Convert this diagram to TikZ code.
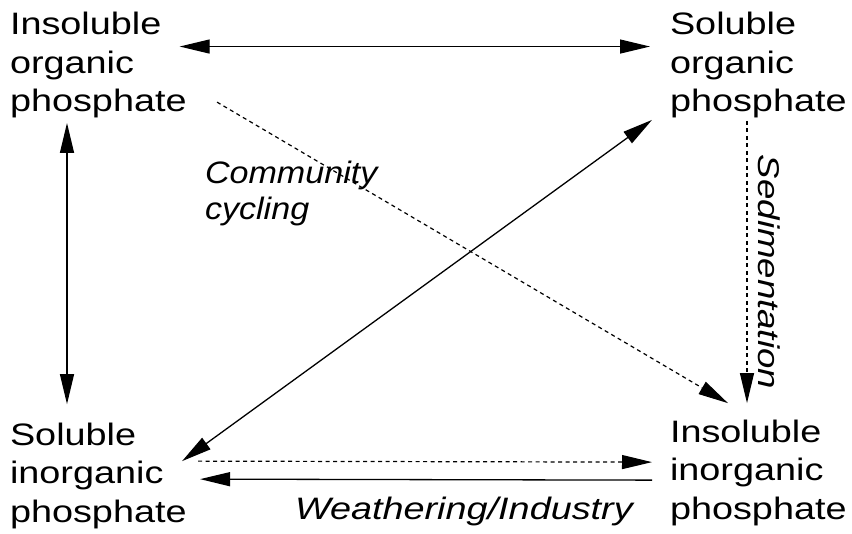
\documentclass[tikz,border=0pt]{standalone}
\usepackage{fontspec}
\setmainfont{Liberation Sans}[FakeStretch=1.22]
\newfontfamily\ccfont{Liberation Sans}[FakeStretch=1.1]
\usetikzlibrary{arrows.meta}
\begin{document}
\begin{tikzpicture}[x=1pt,y=-1pt,
  label/.style={inner sep=0pt, outer sep=0pt, align=left, anchor=base west,
    font=\fontsize{31}{38.5}\selectfont},
  lbl/.style={inner sep=0pt, outer sep=0pt, align=left, anchor=base west,
    font=\fontsize{31}{32}\selectfont\itshape},
  tip/.style={-{Triangle[length=30pt,width=14pt]}},
  dbl/.style={{Triangle[length=30pt,width=14pt]}-{Triangle[length=30pt,width=14pt]}},
  solidline/.style={line width=1.3pt},
  dashline/.style={line width=1.2pt, dash pattern=on 4pt off 3.5pt}]
\useasboundingbox (0,0) rectangle (852,534);
\node[label] (io) at (10,112) {Insoluble\\organic\\phosphate};
\node[label] (so) at (670,112) {Soluble\\organic\\phosphate};
\node[label] (si) at (10,522) {Soluble\\inorganic\\phosphate};
\node[label] (ii) at (670,519) {Insoluble\\inorganic\\phosphate};
\node[lbl, font=\fontsize{31}{36}\ccfont\itshape] (cc) at (205,220) {Community\\cycling};
\node[lbl] (wi) at (295,519) {Weathering/Industry};
\node[lbl, font=\fontsize{30}{32}\selectfont\itshape, rotate=-90] (sed) at (758,155) {Sedimentation};
% connectors
\draw[solidline, dbl] ([shift={(-7,34)}]io.north east) -- ([shift={(-20,34)}]so.north west);
\draw[solidline, dbl] ([shift={(57,4.5)}]io.south west) -- ([shift={(57,-18.4)}]si.north west);
\draw[dashline, tip] ([shift={(30.4,89.6)}]io.north east) -- ([shift={(58,-16.4)}]ii.north west);
\draw[dashline, tip] ([shift={(77,2.5)}]so.south west) -- ([shift={(77,-16.4)}]ii.north west);
\draw[solidline, dbl] ([shift={(-4.6,38.6)}]si.north east) -- ([shift={(-18,1.5)}]so.south west);
\draw[dashline, tip] ([shift={(11.4,38.6)}]si.north east) -- ([shift={(-18,42.6)}]ii.north west);
\draw[solidline, tip] ([shift={(-18,60.6)}]ii.north west) -- ([shift={(13.4,56.6)}]si.north east);
\end{tikzpicture}
\end{document}
